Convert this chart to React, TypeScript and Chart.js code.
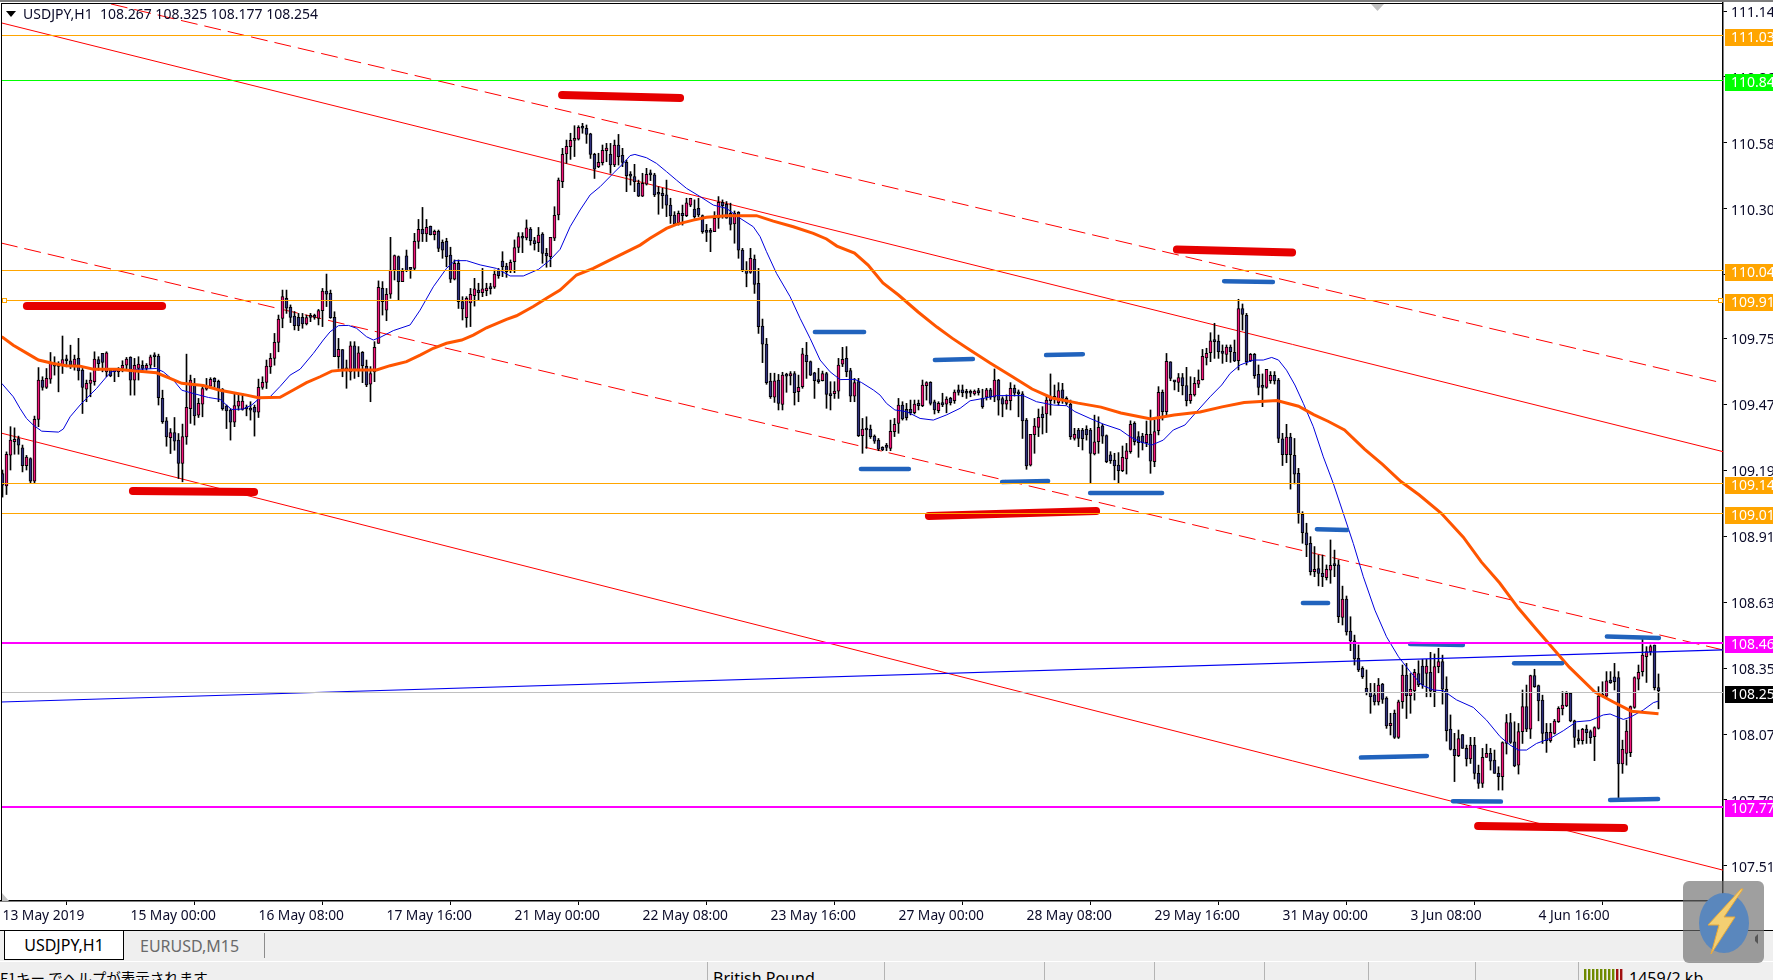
import React, { useEffect, useRef } from "react";
import { Chart, registerables } from "chart.js";

Chart.register(...registerables);

// [open, high, low, close] for each hourly bar
const barsA = [
[109.176,109.191,109.076,109.127],[109.124,109.268,109.087,109.258],[109.254,109.375,109.191,109.318],[109.311,109.370,109.258,109.321],[109.324,109.335,109.258,109.297],[109.285,109.297,109.183,109.209],[109.209,109.253,109.191,109.246],[109.240,109.243,109.137,109.144],[109.144,109.420,109.137,109.406],[109.406,109.626,109.375,109.573],
[109.573,109.587,109.530,109.542],[109.542,109.622,109.537,109.580],[109.577,109.690,109.559,109.648],[109.643,109.672,109.594,109.632],[109.634,109.651,109.523,109.631],[109.634,109.760,109.601,109.660],[109.660,109.679,109.629,109.655],[109.655,109.721,109.622,109.636],[109.636,109.679,109.615,109.662],[109.665,109.750,109.573,109.612],
[109.615,109.622,109.431,109.542],[109.534,109.573,109.481,109.559],[109.559,109.604,109.502,109.573],[109.566,109.693,109.551,109.662],[109.660,109.672,109.615,109.643],[109.686,109.686,109.608,109.648],[109.608,109.693,109.587,109.689],[109.615,109.622,109.587,109.591],[109.612,109.622,109.566,109.609],[109.608,109.626,109.587,109.622],
[109.622,109.655,109.608,109.636],[109.636,109.669,109.615,109.662],[109.669,109.672,109.509,109.573],[109.573,109.665,109.509,109.636],[109.622,109.672,109.573,109.641],[109.636,109.655,109.608,109.622],[109.622,109.643,109.615,109.636],[109.636,109.679,109.622,109.672],[109.676,109.689,109.629,109.672],[109.675,109.683,109.467,109.498],
[109.495,109.530,109.389,109.396],[109.400,109.414,109.292,109.332],[109.328,109.367,109.261,109.350],[109.350,109.414,109.275,109.314],[109.318,109.346,109.155,109.219],[109.219,109.386,109.141,109.333],[109.332,109.683,109.300,109.457],[109.452,109.594,109.389,109.573],[109.554,109.580,109.382,109.421],[109.424,109.495,109.414,109.474],
[109.471,109.551,109.417,109.537],[109.534,109.580,109.530,109.544],[109.547,109.583,109.537,109.576],[109.580,109.583,109.542,109.566],[109.568,109.573,109.481,109.530],[109.535,109.537,109.445,109.452],[109.462,109.467,109.367,109.442],[109.445,109.452,109.318,109.394],[109.394,109.516,109.375,109.465],[109.462,109.509,109.445,109.484],
[109.448,109.516,109.445,109.484],[109.452,109.467,109.421,109.450],[109.448,109.481,109.403,109.445],[109.457,109.467,109.335,109.437],[109.437,109.577,109.414,109.542],[109.542,109.587,109.534,109.563],[109.563,109.658,109.537,109.632],[109.629,109.686,109.601,109.665],[109.665,109.771,109.636,109.733],[109.733,109.849,109.693,109.832],
];
const barsB = [
[109.835,109.955,109.795,109.927],[109.920,109.955,109.856,109.878],[109.882,109.892,109.817,109.839],[109.845,109.864,109.786,109.804],[109.839,109.856,109.783,109.803],[109.839,109.856,109.793,109.811],[109.811,109.849,109.807,109.838],[109.843,109.856,109.821,109.839],[109.842,109.853,109.831,109.839],[109.835,109.873,109.807,109.868],
[109.868,109.962,109.800,109.951],[109.951,110.023,109.885,109.938],[109.941,109.955,109.835,109.838],[109.839,109.863,109.672,109.672],[109.672,109.750,109.623,109.703],[109.702,109.703,109.587,109.620],[109.619,109.658,109.538,109.616],[109.608,109.736,109.573,109.718],[109.718,109.736,109.580,109.616],[109.616,109.715,109.587,109.689],
[109.691,109.694,109.562,109.634],[109.631,109.658,109.545,109.552],[109.555,109.630,109.481,109.601],[109.608,109.736,109.566,109.712],[109.729,109.994,109.729,109.967],[109.962,109.991,109.849,109.906],[109.870,109.962,109.825,109.937],[109.938,110.179,109.920,110.040],[110.040,110.104,109.998,110.101],[110.097,110.100,109.913,109.991],
[109.991,110.047,109.991,110.036],[110.100,110.125,110.033,110.037],[110.046,110.047,110.005,110.043],[110.047,110.196,110.040,110.162],[110.162,110.255,110.132,110.213],[110.213,110.306,110.161,110.193],[110.193,110.255,110.161,110.221],[110.226,110.227,110.189,110.190],[110.190,110.210,110.168,110.204],[110.204,110.210,110.118,110.132],
[110.158,110.168,110.090,110.125],[110.162,110.175,110.054,110.097],[110.104,110.137,109.987,110.001],[110.001,110.083,109.998,110.069],[110.069,110.083,109.877,109.906],[109.906,109.927,109.828,109.875],[109.838,109.927,109.797,109.920],[109.901,109.962,109.800,109.937],[109.931,110.005,109.887,109.960],[109.955,109.984,109.913,109.944],
[109.944,110.047,109.927,109.960],[109.953,109.984,109.931,109.964],[109.967,109.984,109.938,109.961],[109.967,110.040,109.962,110.023],[110.040,110.047,110.005,110.016],[110.078,110.118,110.012,110.054],[110.057,110.069,110.009,110.033],[110.037,110.083,110.029,110.073],[110.076,110.168,110.029,110.136],[110.136,110.199,110.114,110.182],
[110.182,110.199,110.114,110.175],[110.176,110.253,110.168,110.219],[110.214,110.221,110.146,110.165],[110.165,110.179,110.125,110.152],[110.156,110.221,110.118,110.189],[110.193,110.199,110.069,110.111],[110.111,110.132,110.052,110.100],[110.097,110.179,110.054,110.179],[110.175,110.309,110.165,110.272],[110.274,110.431,110.253,110.422],
];
const barsC = [
[110.415,110.557,110.390,110.531],[110.533,110.592,110.493,110.565],[110.564,110.621,110.510,110.591],[110.591,110.653,110.522,110.599],[110.596,110.653,110.592,110.646],[110.647,110.663,110.621,110.642],[110.642,110.656,110.578,110.616],[110.618,110.621,110.514,110.531],[110.531,110.536,110.429,110.468],[110.479,110.536,110.475,110.497],
[110.496,110.571,110.486,110.548],[110.547,110.578,110.500,110.558],[110.531,110.578,110.451,110.486],[110.486,110.592,110.479,110.571],[110.571,110.616,110.486,110.521],[110.527,110.557,110.479,110.497],[110.497,110.507,110.373,110.441],[110.445,110.458,110.401,110.439],[110.437,110.489,110.373,110.415],[110.408,110.422,110.352,110.354],
[110.354,110.451,110.352,110.408],[110.405,110.472,110.401,110.446],[110.446,110.465,110.420,110.444],[110.444,110.451,110.352,110.359],[110.369,110.394,110.277,110.362],[110.366,110.387,110.302,110.356],[110.359,110.422,110.267,110.316],[110.316,110.345,110.238,110.270],[110.274,110.288,110.229,110.236],[110.241,110.291,110.231,110.281],
[110.281,110.316,110.231,110.271],[110.271,110.345,110.267,110.325],[110.316,110.345,110.309,110.345],[110.299,110.338,110.260,110.267],[110.302,110.345,110.267,110.274],[110.271,110.274,110.196,110.203],[110.209,110.234,110.161,110.200],[110.206,110.217,110.118,110.200],[110.203,110.288,110.203,110.260],[110.260,110.352,110.217,110.328],
[110.328,110.338,110.260,110.313],[110.319,110.331,110.260,110.260],[110.281,110.324,110.210,110.234],[110.236,110.291,110.154,110.282],[110.285,110.288,110.090,110.125],[110.125,110.132,110.033,110.040],[110.040,110.076,109.969,110.026],[110.030,110.132,110.026,110.090],[110.087,110.104,109.941,109.979],[109.984,110.047,109.771,109.800],
[109.802,109.832,109.647,109.725],[109.726,109.750,109.555,109.562],[109.569,109.602,109.495,109.502],[109.500,109.602,109.478,109.570],[109.573,109.597,109.446,109.474],[109.470,109.606,109.446,109.594],[109.594,109.602,109.521,109.590],[109.591,109.609,109.552,109.601],[109.601,109.609,109.467,109.519],[109.524,109.594,109.481,109.542],
[109.545,109.708,109.538,109.684],[109.679,109.733,109.580,109.651],[109.651,109.654,109.592,109.594],[109.604,109.606,109.495,109.570],[109.569,109.623,109.559,109.566],[109.570,109.611,109.569,109.601],[109.601,109.606,109.453,109.512],[109.516,109.566,109.446,109.507],[109.515,109.566,109.495,109.526],[109.526,109.665,109.495,109.637],
];
const barsD = [
[109.640,109.712,109.630,109.661],[109.665,109.715,109.587,109.609],[109.613,109.623,109.481,109.505],[109.505,109.580,109.481,109.562],[109.566,109.580,109.333,109.337],[109.337,109.410,109.262,109.365],[109.367,109.417,109.283,109.361],[109.365,109.382,109.325,109.333],[109.335,109.340,109.304,109.314],[109.318,109.325,109.273,109.280],
[109.287,109.290,109.273,109.276],[109.290,109.304,109.273,109.287],[109.283,109.403,109.273,109.355],[109.354,109.410,109.333,109.385],[109.389,109.495,109.347,109.467],[109.467,109.481,109.403,109.408],[109.449,109.474,109.403,109.413],[109.449,109.488,109.425,109.434],[109.434,109.488,109.429,109.471],[109.474,109.488,109.446,109.464],
[109.464,109.573,109.460,109.552],[109.549,109.566,109.488,109.562],[109.563,109.566,109.467,109.474],[109.480,109.488,109.429,109.446],[109.443,109.481,109.434,109.474],[109.477,109.517,109.460,109.467],[109.471,109.502,109.434,109.492],[109.495,109.500,109.467,109.477],[109.485,109.531,109.474,109.522],[109.531,109.552,109.509,109.521],
[109.531,109.552,109.502,109.519],[109.521,109.534,109.495,109.517],[109.521,109.531,109.502,109.517],[109.514,109.531,109.509,109.526],[109.528,109.538,109.509,109.519],[109.495,109.534,109.453,109.460],[109.500,109.538,109.488,109.531],[109.531,109.538,109.491,109.500],[109.500,109.620,109.481,109.573],[109.573,109.576,109.424,109.488],
[109.494,109.502,109.417,109.471],[109.471,109.510,109.449,109.488],[109.485,109.562,109.446,109.538],[109.538,109.552,109.505,109.517],[109.519,109.531,109.417,109.514],[109.514,109.524,109.325,109.399],[109.403,109.410,109.194,109.208],[109.212,109.342,109.208,109.342],[109.341,109.410,109.262,109.378],[109.372,109.450,109.333,109.415],
[109.429,109.460,109.344,109.413],[109.429,109.509,109.350,109.488],[109.485,109.599,109.424,109.502],[109.500,109.552,109.474,109.495],[109.477,109.562,109.467,109.528],[109.531,109.559,109.474,109.495],[109.495,109.502,109.467,109.474],[109.471,109.488,109.321,109.333],[109.325,109.368,109.318,109.342],[109.361,109.368,109.290,109.325],
[109.361,109.368,109.276,109.324],[109.364,109.379,109.318,109.340],[109.361,109.368,109.134,109.262],[109.259,109.424,109.255,109.311],[109.311,109.417,109.262,109.372],[109.379,109.386,109.304,109.335],[109.337,109.340,109.222,109.226],[109.255,109.269,109.219,109.231],[109.233,109.262,109.149,109.208],[109.212,109.265,109.134,109.188],
];
const barsE = [
[109.188,109.293,109.184,109.245],[109.238,109.304,109.174,109.272],[109.269,109.400,109.262,109.385],[109.389,109.396,109.297,109.311],[109.333,109.354,109.245,109.307],[109.335,109.347,109.276,109.307],[109.307,109.399,109.290,109.342],[109.342,109.446,109.177,109.229],[109.226,109.403,109.205,109.354],[109.358,109.545,109.340,109.521],
[109.521,109.531,109.403,109.439],[109.439,109.686,109.418,109.652],[109.650,109.651,109.570,109.580],[109.567,109.570,109.531,109.565],[109.563,109.601,109.524,109.584],[109.584,109.601,109.510,109.549],[109.549,109.627,109.463,109.485],[109.485,109.587,109.474,109.512],[109.510,109.584,109.505,109.559],[109.556,109.616,109.541,109.573],
[109.575,109.703,109.573,109.674],[109.667,109.708,109.637,109.686],[109.689,109.774,109.651,109.740],[109.739,109.814,109.665,109.736],[109.739,109.764,109.665,109.693],[109.696,109.722,109.644,109.686],[109.682,109.722,109.651,109.713],[109.713,109.722,109.648,109.693],[109.691,109.743,109.651,109.654],[109.655,109.916,109.616,109.877],
[109.877,109.896,109.785,109.852],[109.848,109.856,109.637,109.651],[109.655,109.686,109.651,109.682],[109.682,109.686,109.580,109.592],[109.597,109.637,109.510,109.542],[109.546,109.599,109.460,109.542],[109.542,109.618,109.538,109.618],[109.570,109.609,109.559,109.593],[109.593,109.609,109.556,109.569],[109.573,109.580,109.307,109.325],
[109.323,109.347,109.210,109.256],[109.256,109.385,109.222,109.331],[109.331,109.347,109.110,109.256],[109.253,109.325,109.132,109.173],[109.177,109.198,108.965,109.003],[109.003,109.014,108.880,108.925],[108.924,108.965,108.823,108.873],[108.880,108.908,108.745,108.759],[108.759,108.866,108.738,108.769],[108.773,108.830,108.699,108.752],
[108.752,108.830,108.696,108.738],[108.734,108.788,108.724,108.769],[108.766,108.894,108.710,108.786],[108.788,108.851,108.738,108.785],[108.788,108.809,108.543,108.568],[108.565,108.698,108.533,108.643],[108.643,108.656,108.490,108.504],[108.507,108.568,108.424,108.465],[108.466,108.490,108.363,108.389],[108.391,108.448,108.335,108.342],
[108.349,108.356,108.306,108.313],[108.264,108.342,108.236,108.246],[108.247,108.285,108.158,108.229],[108.236,108.285,108.193,108.206],[108.206,108.306,108.193,108.278],[108.282,108.285,108.200,108.217],
];
const barsF = [
[108.223,108.228,108.094,108.104],[108.105,108.158,108.066,108.115],[108.158,108.172,108.051,108.056],[108.056,108.214,108.051,108.207],[108.207,108.363,108.179,108.320],[108.320,108.370,108.136,108.233],[108.233,108.327,108.158,108.260],[108.254,108.345,108.214,108.332],[108.327,108.381,108.271,108.278],[108.359,108.387,108.264,108.278],
[108.327,108.387,108.228,108.359],[108.332,108.417,108.228,108.252],[108.250,108.410,108.186,108.356],[108.356,108.434,108.330,108.378],[108.378,108.405,108.197,108.260],[108.260,108.313,108.040,108.084],[108.091,108.151,108.002,108.005],[108.005,108.073,107.868,107.978],[107.978,108.087,107.974,108.051],[108.068,108.068,108.009,108.009],
[108.009,108.023,107.934,107.964],[107.964,108.056,107.945,108.023],[108.023,108.056,107.879,107.903],[107.903,107.938,107.839,107.860],[107.860,108.009,107.843,107.971],[107.971,108.027,107.971,107.988],[107.988,108.009,107.917,107.955],[107.959,108.002,107.903,107.903],[107.903,107.931,107.832,107.889],[107.889,108.037,107.832,108.034],
[108.030,108.153,107.985,108.119],[108.119,108.158,108.030,108.034],[108.037,108.122,107.931,107.935],[107.938,108.115,107.900,108.080],[108.080,108.257,108.030,108.187],[108.187,108.278,108.080,108.091],[108.091,108.320,108.051,108.318],[108.318,108.345,108.268,108.271],[108.276,108.278,108.126,108.211],[108.214,108.235,108.030,108.073],
[108.077,108.115,107.992,108.042],[108.042,108.115,108.035,108.077],[108.073,108.132,108.070,108.125],[108.122,108.186,108.119,108.179],[108.177,108.250,108.151,108.193],[108.189,108.250,108.186,108.243],[108.243,108.243,108.122,108.126],[108.126,108.129,108.013,108.056],[108.051,108.087,108.027,108.042],[108.042,108.094,108.027,108.090],
[108.091,108.108,108.030,108.076],[108.080,108.087,108.030,108.054],[108.059,108.101,107.957,108.097],[108.094,108.271,108.091,108.231],[108.233,108.292,108.228,108.230],[108.231,108.335,108.221,108.296],[108.299,108.335,108.285,108.288],[108.313,108.370,108.257,108.292],[108.310,108.335,107.800,107.943],[107.943,108.044,107.903,108.005],
[107.988,108.129,107.938,108.083],[107.991,108.189,107.974,108.186],[108.183,108.313,108.179,108.310],[108.303,108.363,108.257,108.332],[108.335,108.472,108.316,108.405],[108.398,108.441,108.289,108.420],[108.420,108.448,108.405,108.441],[108.448,108.448,108.257,108.267],[108.267,108.325,108.177,108.254],
];

// fast moving average (thin blue): [bar, price]
const blueMa = [
[-0.2,109.559],[2.7,109.502],[4.4,109.452],[6.0,109.410],[7.7,109.382],[9.8,109.356],[14.0,109.352],[15.2,109.365],[16.9,109.417],[19.4,109.467],[21.0,109.495],[23.5,109.537],[26.0,109.587],[27.3,109.608],[29.0,109.615],[32.7,109.618],[38.5,109.622],[40.2,109.608],[42.7,109.573],[44.8,109.530],[47.7,109.516],[51.5,109.499],[54.4,109.491],[56.0,109.467],[57.3,109.448],[60.2,109.450],[62.3,109.467],[64.0,109.492],[66.9,109.502],[69.4,109.546],
[71.9,109.594],[74.4,109.619],[77.7,109.686],[80.2,109.743],[81.9,109.778],[84.0,109.804],[86.5,109.805],[88.5,109.793],[91.0,109.757],[92.7,109.743],[94.4,109.754],[97.7,109.783],[101.9,109.807],[104.4,109.870],[107.7,109.969],[111.0,110.047],[113.1,110.080],[116.0,110.080],[119.4,110.062],[123.5,110.047],[126.9,110.015],[130.2,110.015],[134.0,110.043],[136.9,110.083],[139.4,110.128],
[141.9,110.224],[144.4,110.295],[146.9,110.359],[149.4,110.394],[152.7,110.451],[155.2,110.493],[156.9,110.526],[158.1,110.531],[161.0,110.517],[163.5,110.493],[166.0,110.458],[168.5,110.422],[171.0,110.387],[174.4,110.352],[177.7,110.316],[181.0,110.302],[184.4,110.260],[187.7,110.224],[189.4,110.182],[191.0,110.118],[193.5,110.026],[196.9,109.927],[199.4,109.835],[201.9,109.750],[204.4,109.658],[206.9,109.608],[209.4,109.575],
[213.1,109.576],[214.8,109.562],[217.7,109.531],[219.4,109.509],[221.0,109.474],[223.1,109.446],[226.0,109.439],[229.4,109.410],[232.7,109.403],[236.0,109.425],[239.4,109.453],[241.9,109.485],[245.2,109.495],[248.5,109.507],[251.9,109.507],[255.2,109.507],[258.5,109.481],[262.7,109.467],[266.0,109.464],[268.1,109.439],[271.9,109.410],[275.2,109.386],[279.4,109.362],
[281.9,109.332],[284.4,109.311],[287.3,109.297],[290.2,109.318],[292.7,109.361],[295.6,109.382],[298.5,109.438],[301.9,109.502],[304.8,109.552],[306.9,109.601],[309.4,109.637],[312.7,109.658],[315.2,109.658],[317.3,109.669],[319.0,109.658],[321.0,109.615],[323.1,109.552],[325.2,109.474],[327.7,109.375],[330.2,109.247],[332.7,109.134],[335.2,109.007],[337.7,108.879],[340.2,108.738],[343.1,108.596],[346.0,108.483],
[349.0,108.398],[351.9,108.335],[354.8,108.278],[357.7,108.257],[360.2,108.254],[363.5,108.215],[367.7,108.183],[371.0,108.129],[374.4,108.059],[376.9,108.023],[379.0,108.002],[381.0,108.002],[383.5,108.030],[386.9,108.051],[390.2,108.084],[393.5,108.122],[396.9,108.127],[400.2,108.151],[401.9,108.155],[405.2,108.132],[406.9,108.141],[410.2,108.172],[412.7,108.203],[414.0,108.210],
];

// slow moving average (thick orange): [bar, price]
const orangeMa = [
[-0.2,109.757],[2.7,109.721],[6.9,109.679],[9.0,109.658],[12.7,109.643],[16.0,109.634],[19.4,109.632],[22.7,109.619],[28.5,109.619],[32.7,109.612],[38.5,109.604],[41.9,109.580],[44.8,109.559],[50.2,109.550],[54.4,109.530],[57.7,109.519],[61.0,109.509],[64.0,109.498],[69.4,109.500],
[72.7,109.531],[76.0,109.562],[79.4,109.587],[82.3,109.611],[85.2,109.616],[93.5,109.616],[96.9,109.634],[101.0,109.651],[104.4,109.679],[107.7,109.708],[111.0,109.729],[114.8,109.743],[117.7,109.764],[121.0,109.795],[126.0,109.831],[128.5,109.846],[132.7,109.885],[136.0,109.920],[139.4,109.955],
[143.5,110.019],[147.7,110.047],[152.7,110.090],[159.4,110.146],[161.9,110.175],[166.0,110.217],[168.5,110.234],[172.7,110.252],[176.0,110.264],[181.0,110.271],[188.5,110.271],[192.7,110.248],[197.7,110.224],[202.7,110.196],[206.0,110.172],[208.6,110.142],
[213.0,110.112],[216.4,110.061],[220.1,109.985],[224.0,109.934],[228.9,109.862],[233.6,109.798],[237.4,109.751],[241.1,109.709],[246.9,109.645],[252.6,109.586],[257.4,109.535],[262.4,109.497],[268.9,109.475],[274.6,109.458],[279.6,109.433],[287.1,109.408],[292.9,109.425],[299.4,109.437],
[304.9,109.459],[310.4,109.478],[318.6,109.486],[324.0,109.462],[327.8,109.426],[331.5,109.397],[335.5,109.361],[340.5,109.280],[345.0,109.215],[349.6,109.142],[354.2,109.085],[359.7,109.007],[365.2,108.906],[369.7,108.801],[374.3,108.711],[378.9,108.606],[383.4,108.516],[387.1,108.444],[391.7,108.354],[398.1,108.248],[402.6,108.207],[407.2,108.167],[414.0,108.156],
];

// straight trend lines: [bar1, price1, bar2, price2]
const solidChannels = [
  [-0.375, 111.09, 430.125, 109.269],
  [-0.375, 109.348, 430.125, 107.492],
];
const dashedChannels = [
  [27.1, 111.17, 430.125, 109.56],
  [-0.375, 110.155, 430.125, 108.427],
];
const blueTrend = [-0.375, 108.206, 430.125, 108.427];

// hand-drawn strokes: [bar1, price1, bar2, price2]
const redStrokes = [
  [6.1, 109.887, 39.9, 109.887],
  [139.9, 110.783, 169.4, 110.771],
  [32.6, 109.102, 62.9, 109.098],
  [231.6, 108.996, 273.4, 109.017],
  [293.6, 110.127, 322.4, 110.115],
  [368.9, 107.679, 405.4, 107.671],
];
const blueStrokes = [
  [203.1, 109.777, 215.4, 109.777],
  [214.6, 109.195, 226.6, 109.195],
  [233.1, 109.658, 242.6, 109.662],
  [260.9, 109.679, 270.1, 109.683],
  [249.9, 109.14, 261.4, 109.144],
  [271.9, 109.093, 289.9, 109.093],
  [305.4, 109.993, 317.6, 109.989],
  [328.6, 108.94, 336.1, 108.936],
  [325.1, 108.626, 331.4, 108.626],
  [351.9, 108.452, 365.1, 108.448],
  [377.9, 108.371, 389.9, 108.371],
  [401.1, 108.484, 414.1, 108.478],
  [339.6, 107.97, 356.1, 107.977],
  [362.6, 107.785, 374.6, 107.783],
  [401.9, 107.79, 413.9, 107.794],
];

// horizontal levels and price-axis flags
const levelPrices = [111.037, 110.847, 110.042, 109.913, 109.134, 109.007, 108.461, 107.765, 108.247];
const levelLabels = ["111.03", "110.84", "110.04", "109.91", "109.14", "109.01", "108.46", "107.77", "108.25"];
const levelColors = ["#ffa500", "#00ff00", "#ffa500", "#ffa500", "#ffa500", "#ffa500", "#ff00ff", "#ff00ff", "#000000"];

const yTickValues = [111.14, 110.86, 110.58, 110.3, 110.02, 109.75, 109.47, 109.19, 108.91, 108.63, 108.35, 108.07, 107.79, 107.51];
const xTickBars = [0, 32, 64, 96, 128, 160, 192, 224, 256, 288, 320, 352, 384];
const xTickLabels = ["13 May 2019", "15 May 00:00", "16 May 08:00", "17 May 16:00", "21 May 00:00", "22 May 08:00", "23 May 16:00", "27 May 00:00", "28 May 08:00", "29 May 16:00", "31 May 00:00", "3 Jun 08:00", "4 Jun 16:00"];

const symbolTitle = "USDJPY,H1";
const tabLabels = ["USDJPY,H1", "EURUSD,M15"];
const statusHelp = "F1キー でヘルプが表示されます";
const statusProfile = "British Pound";
const statusTraffic = "1459/2 kb";

const FONT = '"Noto Sans", sans-serif';
const BULL = "#f0147a";
const BEAR = "#30307e";

const allBars = [...barsA, ...barsB, ...barsC, ...barsD, ...barsE, ...barsF];

function segLine(seg: number[], color: string, width: number, order: number, extra: any = {}) {
  return {
    type: "line",
    data: [{ x: seg[0], y: seg[1] }, { x: seg[2], y: seg[3] }],
    borderColor: color,
    borderWidth: width,
    pointRadius: 0,
    tension: 0,
    order,
    ...extra,
  };
}

const zeroPad = (s: any) => {
  s.paddingTop = 0;
  s.paddingBottom = 0;
  s.paddingLeft = 0;
  s.paddingRight = 0;
};

const chrome = {
  id: "chrome",
  afterDatasetsDraw(chart: any) {
    const { ctx, chartArea, scales } = chart;
    const y = scales.y;
    ctx.save();
    ctx.beginPath();
    ctx.rect(chartArea.left, chartArea.top, chartArea.width, chartArea.height);
    ctx.clip();
    levelPrices.forEach((p, i) => {
      const py = Math.round(y.getPixelForValue(p));
      const c = levelColors[i];
      ctx.fillStyle = c === "#000000" ? "#c0c0c0" : c;
      const h = c === "#ff00ff" ? 2 : 1;
      ctx.fillRect(chartArea.left, py, chartArea.width, h);
    });
    // selected-line handles on the 109.91 level
    const hy = Math.round(y.getPixelForValue(levelPrices[3]));
    ctx.strokeStyle = "#ffa500";
    ctx.fillStyle = "#fff";
    ctx.lineWidth = 1;
    [2.5, 1718.5].forEach((hx) => {
      ctx.fillRect(hx, hy - 2, 4, 4);
      ctx.strokeRect(hx, hy - 1.5, 4, 4);
    });
    ctx.restore();
  },
  afterDraw(chart: any) {
    const { ctx, chartArea, scales, width } = chart;
    const y = scales.y;
    ctx.save();
    // window frame
    ctx.fillStyle = "#7d7d7d";
    ctx.fillRect(0, 0, width, 2);
    ctx.fillStyle = "#000";
    ctx.fillRect(1, 3, chartArea.right - 1, 1);
    ctx.fillRect(1, 3, 1, chartArea.bottom - 3);
    // shift markers
    ctx.fillStyle = "#c0c0c0";
    ctx.beginPath();
    ctx.moveTo(1371, 4);
    ctx.lineTo(1384, 4);
    ctx.lineTo(1377.5, 11);
    ctx.closePath();
    ctx.fill();
    ctx.beginPath();
    ctx.moveTo(2, 893);
    ctx.lineTo(9, 901);
    ctx.lineTo(2, 901);
    ctx.closePath();
    ctx.fill();
    // header
    ctx.fillStyle = "#000";
    ctx.beginPath();
    ctx.moveTo(6, 11);
    ctx.lineTo(16, 11);
    ctx.lineTo(11, 17);
    ctx.closePath();
    ctx.fill();
    const last = allBars[allBars.length - 1];
    ctx.font = `14px ${FONT}`;
    ctx.fillStyle = "#0a0a28";
    ctx.textBaseline = "middle";
    ctx.textAlign = "left";
    ctx.fillText(`${symbolTitle}  ${last.map((v) => v.toFixed(3)).join(" ")}`, 23, 15);
    // price flags
    levelPrices.forEach((p, i) => {
      const py = Math.round(y.getPixelForValue(p));
      ctx.fillStyle = levelColors[i];
      ctx.fillRect(1725, py - 6, 48, 17);
      ctx.fillStyle = "#fff";
      ctx.fillText(levelLabels[i], 1731, py + 3);
    });
    ctx.restore();
  },
};

export default function App() {
  const ref = useRef<HTMLCanvasElement>(null);
  useEffect(() => {
    if (!ref.current) return;
    const wicks = allBars.map((b, i) => ({ x: i, y: [b[2], b[1]] }));
    const bodies = allBars.map((b, i) => ({ x: i, y: [Math.min(b[0], b[3]), Math.max(b[0], b[3])] }));
    const bodyColors = allBars.map((b) => (b[3] >= b[0] ? BULL : BEAR));
    const toPoints = (rows: number[][]) => rows.map((r) => ({ x: r[0], y: r[1] }));

    const datasets: any[] = [
      ...solidChannels.map((s) => segLine(s, "#ff0000", 1, 8)),
      ...dashedChannels.map((s) => segLine(s, "#ff0000", 1, 8, { borderDash: [17, 7] })),
      {
        type: "bar",
        data: wicks,
        backgroundColor: "#000",
        barThickness: 1,
        grouped: false,
        order: 6,
      },
      {
        type: "bar",
        data: bodies,
        backgroundColor: bodyColors,
        borderColor: "#000",
        borderWidth: 1,
        borderSkipped: false,
        barThickness: 3,
        minBarLength: 2,
        grouped: false,
        order: 5,
      },
      segLine(blueTrend, "#0000f0", 1.2, 4),
      { type: "line", data: toPoints(blueMa), borderColor: "#0000dd", borderWidth: 1, pointRadius: 0, tension: 0, order: 3 },
      { type: "line", data: toPoints(orangeMa), borderColor: "#ff5500", borderWidth: 3, pointRadius: 0, tension: 0, order: 2 },
      ...redStrokes.map((s) => segLine(s, "#e60000", 8, 1, { borderCapStyle: "round" })),
      ...blueStrokes.map((s) => segLine(s, "#2163bd", 4.5, 1, { borderCapStyle: "round" })),
    ];

    const chart = new Chart(ref.current, {
      type: "bar",
      data: { datasets },
      plugins: [chrome],
      options: {
        animation: false,
        responsive: false,
        devicePixelRatio: 1,
        layout: { padding: { left: 1, top: 3, right: 0, bottom: 0 } },
        plugins: { legend: { display: false }, tooltip: { enabled: false }, title: { display: false } },
        scales: {
          x: {
            type: "linear",
            offset: false,
            min: -0.375,
            max: 430.125,
            afterFit(s: any) { s.height = 29; zeroPad(s); },
            afterBuildTicks(s: any) { s.ticks = xTickBars.map((v) => ({ value: v })); },
            grid: { drawOnChartArea: false, drawTicks: true, tickLength: 4, color: "#000" },
            border: { display: true, color: "#000", width: 1.5 },
            ticks: {
              autoSkip: false,
              maxRotation: 0,
              minRotation: 0,
              align: "start",
              padding: 3,
              color: "#0a0a28",
              font: { family: FONT, size: 13.8 },
              callback(v: any) { return xTickLabels[xTickBars.indexOf(v)] ?? ""; },
            },
          },
          y: {
            type: "linear",
            position: "right",
            min: 107.361,
            max: 111.174,
            afterFit(s: any) { s.width = 50; zeroPad(s); },
            afterBuildTicks(s: any) { s.ticks = yTickValues.map((v) => ({ value: v })); },
            grid: { drawOnChartArea: false, drawTicks: true, tickLength: 4, color: "#000" },
            border: { display: true, color: "#000", width: 1.5 },
            ticks: {
              autoSkip: false,
              padding: 4,
              labelOffset: 2,
              color: "#0a0a28",
              font: { family: FONT, size: 14 },
              callback(v: any) { return Number(v).toFixed(2); },
            },
          },
        },
      } as any,
    } as any);
    return () => chart.destroy();
  }, []);

  const sep = (left: number) => (
    <div key={left} style={{ position: "absolute", left, top: 962, width: 1, height: 18, background: "#b4b4b4" }} />
  );

  return (
    <div style={{ position: "fixed", left: 0, top: 0, width: 1773, height: 980, overflow: "hidden", background: "#fff", fontFamily: FONT }}>
      <canvas ref={ref} width={1773} height={930} style={{ position: "absolute", left: 0, top: 0, display: "block" }} />
      <div style={{ position: "absolute", left: 0, top: 930, width: 1773, height: 50, background: "#efefef", borderTop: "1px solid #000", boxSizing: "border-box" }} />
      <div style={{ position: "absolute", left: 0, top: 961, width: 1773, height: 1, background: "#fff" }} />
      <div style={{ position: "absolute", left: 4, top: 930, width: 120, height: 30, boxSizing: "border-box", background: "#fff", borderLeft: "1px solid #000", borderRight: "1.5px solid #000", borderBottom: "1.5px solid #000", borderTop: "1px solid #000", fontSize: 16, lineHeight: "29px", textAlign: "center", color: "#000" }}>{tabLabels[0]}</div>
      <div style={{ position: "absolute", left: 140, top: 933, fontSize: 16, lineHeight: "26px", color: "#6a6a6a" }}>{tabLabels[1]}</div>
      <div style={{ position: "absolute", left: 264, top: 933, width: 1, height: 25, background: "#8c8c8c" }} />
      <div style={{ position: "absolute", left: 0, top: 968, fontSize: 14.5, lineHeight: "20px", whiteSpace: "nowrap", fontFamily: '"Noto Sans CJK JP", sans-serif', color: "#000" }}>{statusHelp}</div>
      {[707, 884, 1044, 1154, 1264, 1368, 1475, 1578].map(sep)}
      <div style={{ position: "absolute", left: 713, top: 968, fontSize: 16, lineHeight: "20px", whiteSpace: "nowrap", color: "#000" }}>{statusProfile}</div>
      <div style={{ position: "absolute", left: 1629, top: 968, fontSize: 16, lineHeight: "20px", whiteSpace: "nowrap", color: "#000" }}>{statusTraffic}</div>
      <svg style={{ position: "absolute", left: 1584, top: 968 }} width={40} height={12}>
        {[0, 4, 8, 12, 16, 20, 24, 28, 32, 36].map((x, i) => (
          <rect key={x} x={x} y={1} width={2.4} height={11} fill={i > 7 ? "#a01010" : "#6f8a00"} />
        ))}
      </svg>
      <svg style={{ position: "absolute", left: 1683, top: 881 }} width={81} height={82}>
        <rect x={0} y={0} width={81} height={82} rx={6} fill="#6e6e6e" fillOpacity={0.66} />
        <ellipse cx={41} cy={42} rx={25} ry={30} fill="#5a87bd" />
        <polygon points="58,8 25,44 36,44 28,73 52,36 41,36 60,8" fill="#f4cf72" stroke="#e8a93a" strokeWidth={1} />
        <polygon points="72,56 75,53 75,63 72,60" fill="#555" />
      </svg>
    </div>
  );
}
